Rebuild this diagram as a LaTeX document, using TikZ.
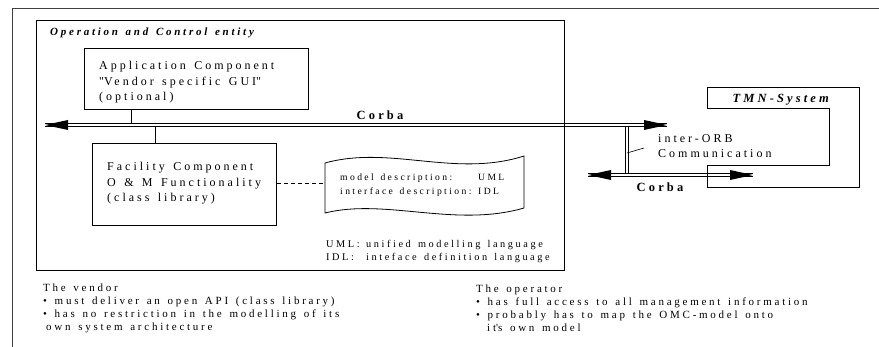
\documentclass[tikz,border=0pt]{standalone}
\usepackage{fontspec}
\setmainfont{Liberation Serif}[LetterSpace=25]
\usetikzlibrary{arrows.meta}
\newcommand{\wsp}{\spaceskip=0.7em plus 0.1em minus 0.05em\xspaceskip=0.7em\relax}

\begin{document}
\begin{tikzpicture}[x=1pt,y=-1pt,
  box/.style={draw,line width=0.9pt,inner sep=0pt},
  txt/.style={anchor=base west,inner sep=0pt,align=left,text width=#1,execute at begin node=\wsp},
  big/.style={font=\fontsize{12}{15.5}\selectfont},
  small/.style={font=\fontsize{10.3}{13}\selectfont},
  note/.style={font=\fontsize{11}{12.8}\selectfont},
  busline/.style={line width=0.8pt}]
\useasboundingbox (0,0) rectangle (879,347);
\clip (0,0) rectangle (879,347);
\draw [line width=0.9pt, black!75] (12,400) -- (12,8) -- (900,8);

\node [box, minimum width=528pt, minimum height=250pt, anchor=north west] (omc) at (36,20) {};
\node [txt=300pt, font=\fontsize{11}{13}\selectfont\bfseries\itshape] (omctitle) at (50,36) {Operation and Control entity};

\node [box, minimum width=224pt, minimum height=61pt, anchor=north west] (app) at (84,48) {};
\node [txt=200pt, big] (apptext) at (99,70) {Application Component\\\textquotedbl Vendor specific GUI\textquotedbl\\(optional)};

\node [box, minimum width=184pt, minimum height=82pt, anchor=north west] (fac) at (92,143) {};
\node [txt=170pt, big] (factext) at (107,171) {Facility Component\\O \& M Functionality\\(class library)};

\draw [line width=0.8pt] (325,213) -- (325,163) .. controls (390,145) and (455,178) .. (524,156)
  -- (524,208) .. controls (455,228) and (385,198) .. (325,213) -- cycle;
\coordinate (docW) at (325,183);
\node [txt=180pt, font=\fontsize{9.6}{14}\selectfont] (doctext) at (340,181) {\makebox[138pt][l]{model description:}UML\\\makebox[138pt][l]{interface description:}IDL};
\draw [dashed, dash pattern=on 4pt off 3pt] (fac.east |- docW) -- (docW);

\node [txt=240pt, small] (legend) at (326,248) {\makebox[40pt][l]{UML:}unified modelling language\\\makebox[40pt][l]{IDL:}inteface definition language};

\draw [line width=0.9pt] (707,87) -- (859,87) -- (859,187) -- (707,187) -- (707,165)
  -- (829,165) -- (829,108) -- (707,108) -- cycle;
\node [anchor=base east, inner sep=0pt, font=\fontsize{12.5}{14}\selectfont\bfseries\itshape] (tmn) at (829,103) {TMN-System};

\coordinate (busW) at (45,125);
\coordinate (busE) at (667,125);
\coordinate (tapA) at (131,125);
\coordinate (tapF) at (155,125);
\coordinate (orbN) at (627,125);
\coordinate (orbS) at (627,175);
\coordinate (lowW) at (588,175);
\coordinate (lowE) at (753,175);
\coordinate (orbleader) at (644,148);

\draw [line width=0.8pt] (app.south -| tapA) -- ([yshift=1.3pt]tapA);
\draw [line width=0.8pt] ([yshift=-1.3pt]tapF) -- (fac.north -| tapF);

\draw [busline] ([xshift=-1.3pt,yshift=-1.3pt]orbN) -- ([xshift=-1.3pt,yshift=1.3pt]orbS);
\draw [busline] ([xshift=1.3pt,yshift=-1.3pt]orbN) -- ([xshift=1.3pt,yshift=1.3pt]orbS);
\foreach \a/\b in {busW/busE,lowW/lowE}{
  \draw [busline] ([yshift=1.3pt]\a) -- ([yshift=1.3pt]\b);
  \draw [busline] ([yshift=-1.3pt]\a) -- ([yshift=-1.3pt]\b);
  \fill (\a) -- ++(23,-5) -- ++(0,10) -- cycle;
  \fill (\b) -- ++(-23,-5) -- ++(0,10) -- cycle;
}

\node [anchor=base, inner sep=0pt, font=\fontsize{12.5}{14}\selectfont\bfseries] (corbaup) at (380,120) {Corba};
\node [anchor=base, inner sep=0pt, font=\fontsize{12.5}{14}\selectfont\bfseries] (corbalow) at (660,192) {Corba};
\node [txt=130pt, font=\fontsize{12}{15}\selectfont] (orb) at (658,143) {inter-ORB\\Communication};
\draw [line width=0.6pt] (orbleader) -- (orbN |- 0,153);

\node [txt=340pt, note] (vendor) at (43,292) {The vendor\\%
\textbullet\ must deliver an open API (class library)\\%
\textbullet\ has no restriction in the modelling of its\\%
\hspace*{3pt}own system architecture};
\node [txt=390pt, note] (operator) at (476,293) {The operator\\%
\textbullet\ has full access to all management information\\%
\textbullet\ probably has to map the OMC-model onto\\%
\hspace*{11pt}it\textquotesingle s own model};

\end{tikzpicture}
\end{document}
